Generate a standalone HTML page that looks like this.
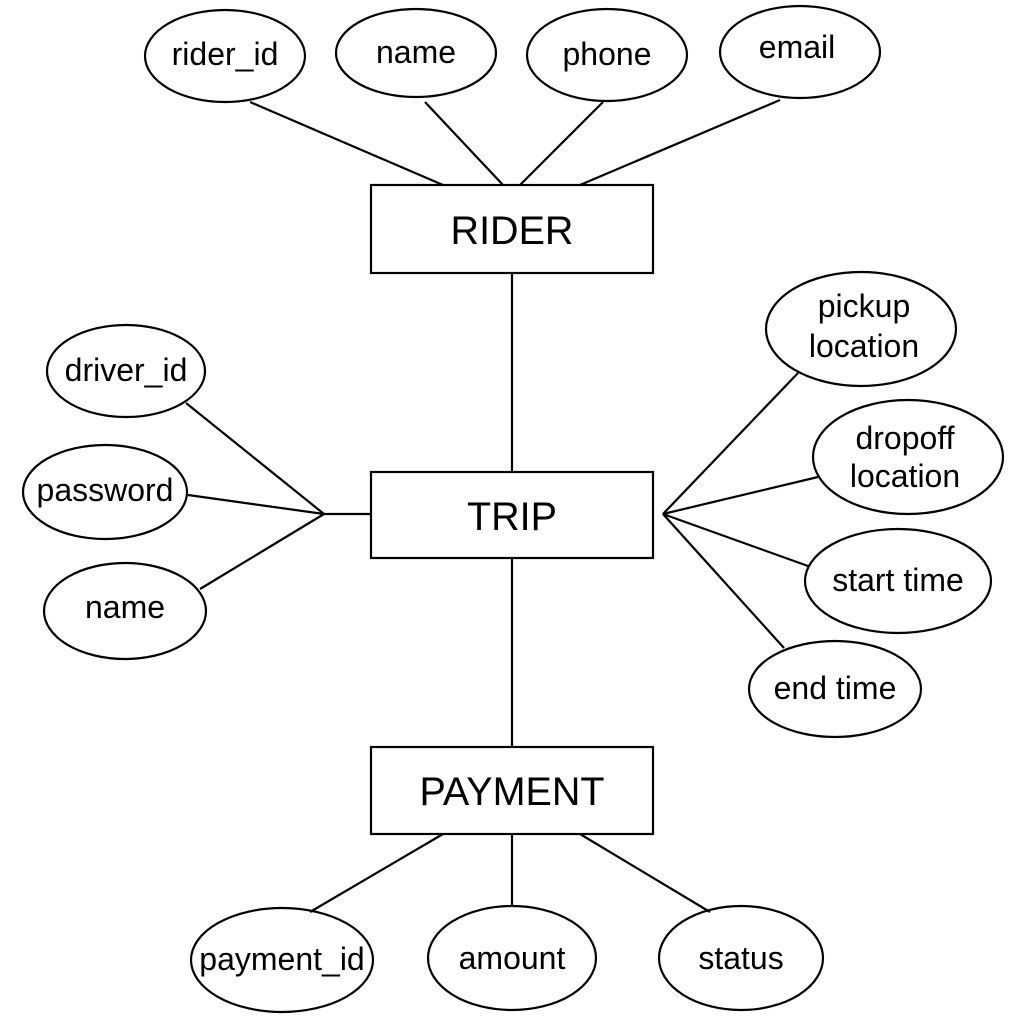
<!DOCTYPE html>
<html><head><meta charset="utf-8"><style>
html,body{margin:0;padding:0;background:#fff;}
svg{display:block;}
text{font-family:"Liberation Sans",Arial,sans-serif;fill:#000;text-anchor:middle;}
</style></head><body>
<svg width="1024" height="1024" viewBox="0 0 1024 1024" xmlns="http://www.w3.org/2000/svg">
<g stroke="#000" stroke-width="2.2" fill="none">
<line x1="250" y1="102" x2="443" y2="185"/>
<line x1="425" y1="102" x2="503" y2="185"/>
<line x1="603" y1="102" x2="520" y2="185"/>
<line x1="780" y1="100" x2="580" y2="185"/>
<line x1="512" y1="273" x2="512" y2="472"/>
<line x1="512" y1="558" x2="512" y2="747"/>
<line x1="186" y1="403" x2="324" y2="514"/>
<line x1="188" y1="495" x2="324" y2="514"/>
<line x1="200" y1="589" x2="324" y2="514"/>
<line x1="324" y1="514" x2="371" y2="514"/>
<line x1="663" y1="514" x2="798" y2="373"/>
<line x1="663" y1="514" x2="818" y2="477"/>
<line x1="663" y1="514" x2="808" y2="566"/>
<line x1="663" y1="514" x2="784" y2="648"/>
<line x1="443" y1="834" x2="310" y2="912"/>
<line x1="512" y1="834" x2="512" y2="906"/>
<line x1="580" y1="834" x2="710" y2="912"/>
<rect x="371" y="185" width="282" height="88"/>
<rect x="371" y="472" width="282" height="86"/>
<rect x="371" y="747" width="282" height="87"/>
<ellipse cx="225" cy="56" rx="80" ry="46"/>
<ellipse cx="416" cy="53" rx="80" ry="44"/>
<ellipse cx="607" cy="55" rx="80" ry="46"/>
<ellipse cx="800" cy="52" rx="80" ry="46"/>
<ellipse cx="126" cy="371" rx="79" ry="46"/>
<ellipse cx="105" cy="492" rx="82" ry="47"/>
<ellipse cx="125" cy="611" rx="81" ry="48"/>
<ellipse cx="861" cy="329" rx="95" ry="57"/>
<ellipse cx="908" cy="457" rx="95" ry="57"/>
<ellipse cx="898" cy="581" rx="93" ry="52"/>
<ellipse cx="835" cy="689" rx="86" ry="48"/>
<ellipse cx="282" cy="960" rx="91" ry="52"/>
<ellipse cx="512" cy="958" rx="84" ry="52"/>
<ellipse cx="741" cy="958" rx="82" ry="52"/>
</g>
<g font-size="32">
<text x="225" y="65">rider_id</text>
<text x="416" y="63">name</text>
<text x="607" y="65">phone</text>
<text x="797" y="58">email</text>
<text x="126" y="381">driver_id</text>
<text x="105" y="501">password</text>
<text x="125" y="618">name</text>
<text x="864" y="317">pickup</text>
<text x="864" y="357">location</text>
<text x="905" y="449">dropoff</text>
<text x="905" y="487">location</text>
<text x="898" y="591">start time</text>
<text x="835" y="699">end time</text>
<text x="282" y="970">payment_id</text>
<text x="512" y="969">amount</text>
<text x="741" y="969">status</text>
</g>
<g font-size="39.5">
<text x="512" y="244">RIDER</text>
<text x="512" y="530">TRIP</text>
<text x="512" y="805">PAYMENT</text>
</g>
</svg>
</body></html>
